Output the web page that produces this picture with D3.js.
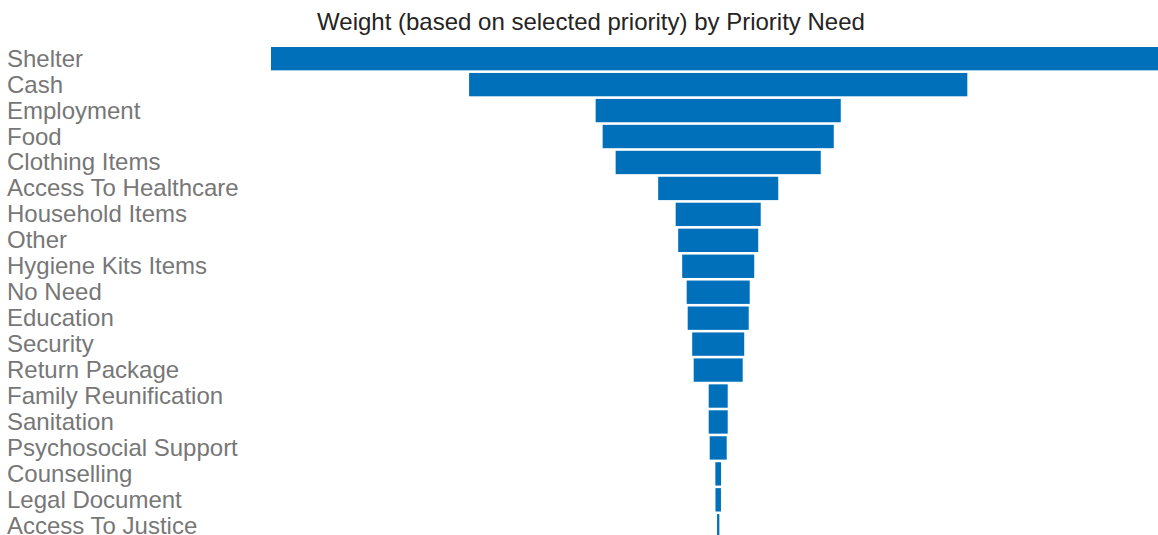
<!DOCTYPE html>
<html>
<head>
<meta charset="utf-8">
<script src="https://d3js.org/d3.v7.min.js"></script>
<style>
  html, body { margin: 0; padding: 0; background: #fff; overflow: hidden; }
</style>
</head>
<body>
<script>
// Priority needs, top to bottom
const needs = [
  "Shelter", "Cash", "Employment", "Food", "Clothing Items",
  "Access To Healthcare", "Household Items", "Other", "Hygiene Kits Items",
  "No Need", "Education", "Security", "Return Package",
  "Family Reunification", "Sanitation", "Psychosocial Support",
  "Counselling", "Legal Document", "Access To Justice"
];

// Weight (based on selected priority)
const weights = [
  894, 498, 245, 231, 205,
  120, 85, 80, 72,
  63, 61, 52, 49,
  19, 19, 17,
  5.7, 5.5, 2.3
];

const width = 1158;
const height = 535;
const centerX = 718.2; // funnel axis
const maxHalf = 447.2; // half-width of the widest bar

const svg = d3.select("body")
  .append("svg")
  .attr("width", width)
  .attr("height", height)
  .style("font-family", '"Liberation Sans", Arial, sans-serif');

// Title
svg.append("text")
  .attr("x", 591)
  .attr("y", 30)
  .attr("text-anchor", "middle")
  .style("font-size", "24px")
  .style("fill", "#252423")
  .text("Weight (based on selected priority) by Priority Need");

const y = d3.scaleBand()
  .domain(needs)
  .range([45.7, 538.75])
  .paddingInner(0.1)
  .paddingOuter(0.05);

const w = d3.scaleLinear()
  .domain([0, d3.max(weights)])
  .range([0, maxHalf * 2]);

const rows = needs.map((n, i) => ({ name: n, value: weights[i] }));

// Bars, centred on the funnel axis
svg.append("g")
  .selectAll("rect")
  .data(rows)
  .enter()
  .append("rect")
  .attr("x", (d) => centerX - w(d.value) / 2)
  .attr("y", (d) => y(d.name))
  .attr("width", (d) => w(d.value))
  .attr("height", y.bandwidth())
  .attr("fill", "#0070BA");

// Category labels
svg.append("g")
  .selectAll("text")
  .data(rows)
  .enter()
  .append("text")
  .attr("x", 7)
  .attr("y", (d) => y(d.name) + y.bandwidth() / 2 + 8)
  .style("font-size", "24px")
  .style("fill", "#777777")
  .text((d) => d.name);
</script>
</body>
</html>
